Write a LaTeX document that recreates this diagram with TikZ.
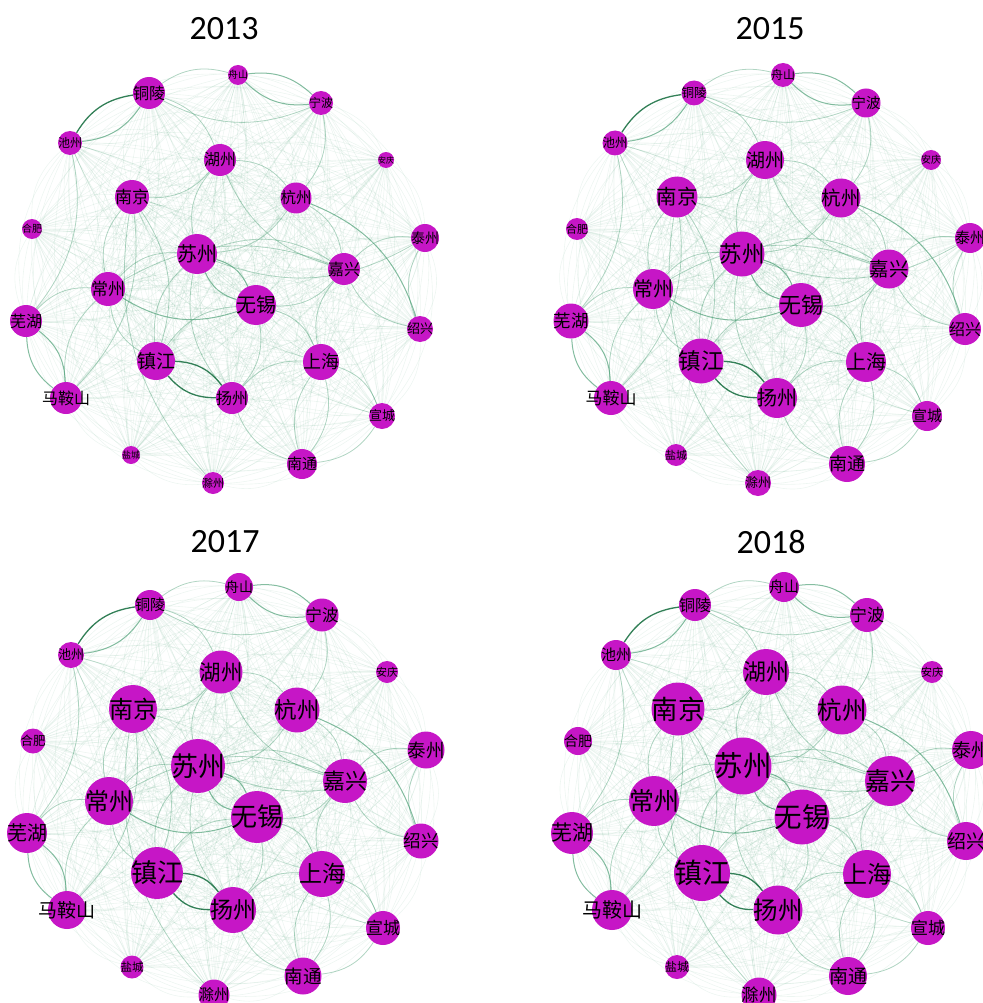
\documentclass[tikz,border=0pt]{standalone}
\usepackage{fontspec}
\usepackage{tikz}
\usetikzlibrary{backgrounds}
\newfontfamily\cjk{Noto Sans CJK SC}
\newfontfamily\yearfont{Carlito}
\definecolor{citypurple}{RGB}{198,22,198}
\definecolor{linkgreen}{RGB}{60,150,105}
\definecolor{linkdark}{RGB}{30,115,70}

% 编号/城市/x/y/半径(2013,2015,2017,2018)
\newcommand{\citylist}{%
  zs/舟山/238/75/10/12/14/15,
  tl/铜陵/149/93/16/12.5/15/16,
  nb/宁波/321/103/12/14.5/16.5/17,
  cz/池州/70/143/12/12.5/13/15,
  hz/湖州/220/160/16/19/21.5/23,
  aq/安庆/386/160/8/10/11/11,
  nj/南京/132/197/17/20.5/24/26.5,
  hgz/杭州/296/198/15.5/19.5/22.5/24.5,
  hf/合肥/32/229/10/11/12.5/14,
  tz/泰州/425/238/14/15/18.5/19,
  sz/苏州/197/254/20/22.5/27/28.5,
  jx/嘉兴/344/269/16/19.5/22/25,
  chz/常州/108/289/17/20/24/25,
  wx/无锡/256/305/20/22/26/27.5,
  wh/芜湖/26/321/16/17.5/20/21,
  sx/绍兴/420/329/13/16/17.5/19,
  zj/镇江/156/361/19/22.5/26/28,
  sh/上海/321/362/18/20/23/24,
  mas/马鞍山/66/398/16/17/19/20,
  yz/扬州/232/398/16/20/23/24.5,
  xc/宣城/382/416/13/15/17/17,
  yc/盐城/131/455/9/11/11.5/12,
  nt/南通/302/464/15/18/18.5/19,
  chu/滁州/213/483/11/13/15.5/17.5}
\newcommand{\cityids}{zs,tl,nb,cz,hz,aq,nj,hgz,hf,tz,sz,jx,chz,wx,wh,sx,zj,sh,mas,yz,xc,yc,nt,chu}

% 联系强度
\newcommand{\strongpairs}{zj/yz,yz/zj,cz/tl}
\newcommand{\midpairs}{tl/cz,sz/wx,wx/sz,wx/chz,hgz/sx,zs/nb,nb/zs,wh/mas,mas/wh}
\newcommand{\lightpairs}{jx/tz,sx/jx,sh/nt,yz/sh,sh/jx,nj/mas,nj/zj,chz/nj,wh/chz,chz/sz,sz/jx,yz/sz,hz/hgz,sz/hz,hgz/jx,tl/zs,nb/tl,cz/wh,mas/chz,wx/sh,jx/wx,chu/nj,nt/yz,zj/chz,nb/hgz,sx/tz,xc/nt,hgz/sz,zj/wx,wx/yz,jx/hz,tz/sz,chz/jx,sh/xc,hz/nj,zj/sz,nt/sh,tl/hz}

\begin{document}
\begin{tikzpicture}[x=1pt, y=-1pt,
  city/.style={circle, fill=citypurple, inner sep=0pt, minimum size=2*#1},
  cityname/.style={font=\cjk\fontsize{#1}{#1}\selectfont, inner sep=0pt, text=black},
  yearlabel/.style={font=\yearfont\fontsize{34}{34}\selectfont},
  link/.style={draw=linkgreen, line width=0.6pt, bend left=25},
  faint/.style={link, draw opacity=0.09},
  light/.style={link, line width=0.8pt, draw opacity=0.35},
  medium/.style={link, line width=1pt, draw opacity=0.6},
  strong/.style={link, draw=linkdark, line width=1.3pt, draw opacity=0.9}
]
\useasboundingbox (0,0) rectangle (982,1003);

% 年份
\node[yearlabel] (t2013) at (224,29) {2013};
\node[yearlabel] (t2015) at (770,29) {2015};
\node[yearlabel] (t2017) at (225,542) {2017};
\node[yearlabel] (t2018) at (771,542) {2018};

% 城市节点
\foreach \id/\nm/\x/\y/\ra/\rb/\rc/\rd in \citylist {
  \foreach \yr/\dx/\dy/\r in {2013/0/0/\ra, 2015/545/0/\rb, 2017/1/512/\rc, 2018/546/512/\rd} {
    \node[city=\r, label={[cityname=\r]center:\nm}] (\yr-\id) at (\x+\dx,\y+\dy) {};
  }
}

% 城市间联系
\begin{scope}[on background layer]
  \foreach \yr in {2013,2015,2017,2018} {
    \foreach \a in \cityids {
      \foreach \b in \cityids {
        \ifx\a\b\else
          \draw[faint] (\yr-\a) to (\yr-\b);
        \fi
      }
    }
    \foreach \a/\b in \lightpairs {\draw[light] (\yr-\a) to (\yr-\b);}
    \foreach \a/\b in \midpairs {\draw[medium] (\yr-\a) to (\yr-\b);}
    \foreach \a/\b in \strongpairs {\draw[strong] (\yr-\a) to (\yr-\b);}
  }
\end{scope}

\end{tikzpicture}
\end{document}
